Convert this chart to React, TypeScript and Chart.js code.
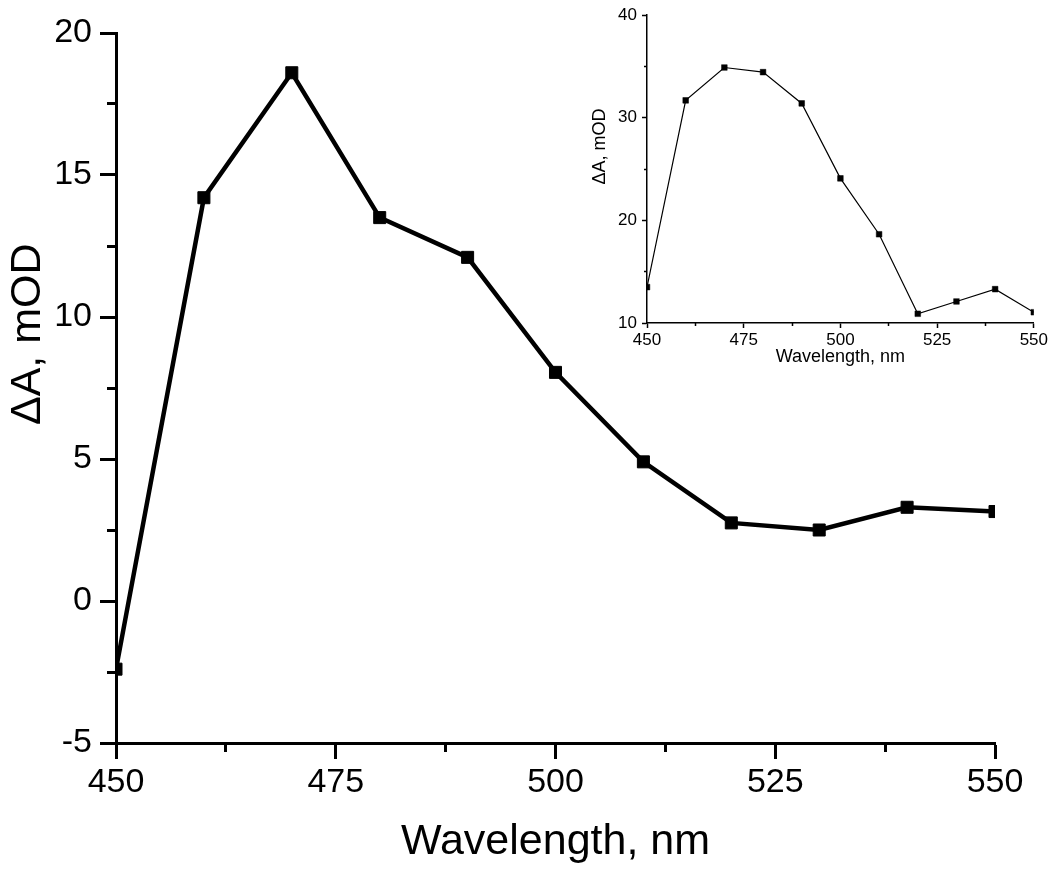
import React, { useEffect, useRef } from 'react';
import { Chart, registerables } from 'chart.js';

Chart.register(...registerables);

// ---------- data ----------
const wavelengths = [450, 460, 470, 480, 490, 500, 510, 520, 530, 540, 550];
const mainDeltaA = [-2.4, 14.2, 18.6, 13.5, 12.1, 8.05, 4.9, 2.75, 2.5, 3.3, 3.15];
const insetDeltaA = [13.5, 31.7, 34.9, 34.45, 31.4, 24.1, 18.65, 10.9, 12.1, 13.3, 11.05];

const xMajorTicks = [450, 475, 500, 525, 550];
const xMinorTicks = [462.5, 487.5, 512.5, 537.5];
const mainYMajorTicks = [-5, 0, 5, 10, 15, 20];
const mainYMinorTicks = [-2.5, 2.5, 7.5, 12.5, 17.5];
const insetYMajorTicks = [10, 20, 30, 40];
const insetYMinorTicks = [15, 25, 35];

const xTitle = 'Wavelength, nm';
const yTitle = 'ΔA, mOD';

const FONT = '"Liberation Sans", Arial, Helvetica, sans-serif';

type AxisCfg = {
  xMin: number; xMax: number; yMin: number; yMax: number;
  xMajor: number[]; xMinor: number[]; yMajor: number[]; yMinor: number[];
  yAxisWidth: number; xAxisHeight: number;
  majorLen: number; minorLen: number; axisWidth: number;
  tickFont: number; titleFont: number;
  yTickPad: number; xTickPad: number;
  yTitlePad: number; xTitlePad: number; yTitleShift: string;
};

function buildScales(c: AxisCfg) {
  const setTicks = (vals: number[]) => (s: any) => {
    s.ticks = vals.map((v) => ({ value: v }));
  };
  const gridMajor = {
    display: true,
    drawOnChartArea: false,
    drawTicks: true,
    tickLength: c.majorLen,
    tickWidth: c.axisWidth,
    tickColor: '#000',
  };
  const gridMinor = { ...gridMajor, tickLength: c.minorLen };
  return {
    x: {
      type: 'linear',
      position: 'bottom',
      min: c.xMin,
      max: c.xMax,
      weight: 1,
      afterBuildTicks: setTicks(c.xMajor),
      afterFit: (s: any) => { s.height = c.xAxisHeight; },
      grid: gridMajor,
      border: { display: true, color: '#000', width: c.axisWidth },
      ticks: {
        color: '#000',
        font: { size: c.tickFont, family: FONT },
        padding: c.xTickPad,
        autoSkip: false,
        maxRotation: 0,
        callback: (v: any) => String(v),
      },
      title: {
        display: true,
        text: xTitle,
        color: '#000',
        font: { size: c.titleFont, family: FONT },
        padding: { top: 0, bottom: c.xTitlePad },
      },
    },
    xMinor: {
      type: 'linear',
      position: 'bottom',
      min: c.xMin,
      max: c.xMax,
      weight: 0,
      afterBuildTicks: setTicks(c.xMinor),
      afterFit: (s: any) => { s.height = 0; },
      grid: gridMinor,
      border: { display: false },
      ticks: { display: false },
    },
    y: {
      type: 'linear',
      position: 'left',
      min: c.yMin,
      max: c.yMax,
      weight: 1,
      afterBuildTicks: setTicks(c.yMajor),
      afterFit: (s: any) => { s.width = c.yAxisWidth; },
      grid: gridMajor,
      border: { display: true, color: '#000', width: c.axisWidth },
      ticks: {
        color: '#000',
        font: { size: c.tickFont, family: FONT },
        padding: c.yTickPad,
        callback: (v: any) => String(v),
      },
      title: {
        display: true,
        text: c.yTitleShift + yTitle,
        color: '#000',
        font: { size: c.titleFont, family: FONT },
        padding: { top: c.yTitlePad, bottom: 0 },
      },
    },
    yMinor: {
      type: 'linear',
      position: 'left',
      min: c.yMin,
      max: c.yMax,
      weight: 0,
      afterBuildTicks: setTicks(c.yMinor),
      afterFit: (s: any) => { s.width = 0; },
      grid: gridMinor,
      border: { display: false },
      ticks: { display: false },
    },
  };
}

export default function App() {
  const mainRef = useRef<HTMLCanvasElement | null>(null);
  const insetRef = useRef<HTMLCanvasElement | null>(null);

  useEffect(() => {
    document.body.style.margin = '0';
    const mainChart = new Chart(mainRef.current as HTMLCanvasElement, {
      type: 'line',
      data: {
        datasets: [
          {
            data: wavelengths.map((w, i) => ({ x: w, y: mainDeltaA[i] })),
            borderColor: '#000',
            backgroundColor: '#000',
            borderWidth: 4.5,
            pointStyle: 'rect',
            pointRadius: 8.5,
            pointBorderWidth: 1,
            pointBackgroundColor: '#000',
            pointBorderColor: '#000',
            tension: 0,
            clip: 0,
          } as any,
        ],
      },
      options: {
        responsive: false,
        animation: false,
        devicePixelRatio: 1,
        layout: { padding: { left: 0, top: 33, right: 55, bottom: 0 } },
        plugins: { legend: { display: false }, tooltip: { enabled: false } },
        scales: buildScales({
          xMin: 450, xMax: 550, yMin: -5, yMax: 20,
          xMajor: xMajorTicks, xMinor: xMinorTicks,
          yMajor: mainYMajorTicks, yMinor: mainYMinorTicks,
          yAxisWidth: 116, xAxisHeight: 131,
          majorLen: 16, minorLen: 9, axisWidth: 3,
          tickFont: 34, titleFont: 43,
          yTickPad: 8, xTickPad: 3,
          yTitlePad: 2, xTitlePad: 6,
          yTitleShift: '         ',
        }) as any,
      },
    });

    const insetChart = new Chart(insetRef.current as HTMLCanvasElement, {
      type: 'line',
      data: {
        datasets: [
          {
            data: wavelengths.map((w, i) => ({ x: w, y: insetDeltaA[i] })),
            borderColor: '#000',
            backgroundColor: '#000',
            borderWidth: 1.2,
            pointStyle: 'rect',
            pointRadius: 4,
            pointBorderWidth: 0.5,
            pointBackgroundColor: '#000',
            pointBorderColor: '#000',
            tension: 0,
            clip: 0,
          } as any,
        ],
      },
      options: {
        responsive: false,
        animation: false,
        devicePixelRatio: 1,
        layout: { padding: { left: 0, top: 10, right: 14, bottom: 0 } },
        plugins: { legend: { display: false }, tooltip: { enabled: false } },
        scales: buildScales({
          xMin: 450, xMax: 550, yMin: 10, yMax: 40,
          xMajor: xMajorTicks, xMinor: xMinorTicks,
          yMajor: insetYMajorTicks, yMinor: insetYMinorTicks,
          yAxisWidth: 87, xAxisHeight: 57,
          majorLen: 5, minorLen: 3, axisWidth: 1.5,
          tickFont: 17, titleFont: 18,
          yTickPad: 5, xTickPad: 2,
          yTitlePad: 29, xTitlePad: 12,
          yTitleShift: '         ',
        }) as any,
      },
    });

    return () => {
      mainChart.destroy();
      insetChart.destroy();
    };
  }, []);

  return (
    <div style={{ position: 'fixed', left: 0, top: 0, width: 1050, height: 874, background: '#fff' }}>
      <canvas ref={mainRef} width={1050} height={874} style={{ position: 'absolute', left: 0, top: 0 }} />
      <canvas ref={insetRef} width={490} height={380} style={{ position: 'absolute', left: 560, top: 0 }} />
    </div>
  );
}
